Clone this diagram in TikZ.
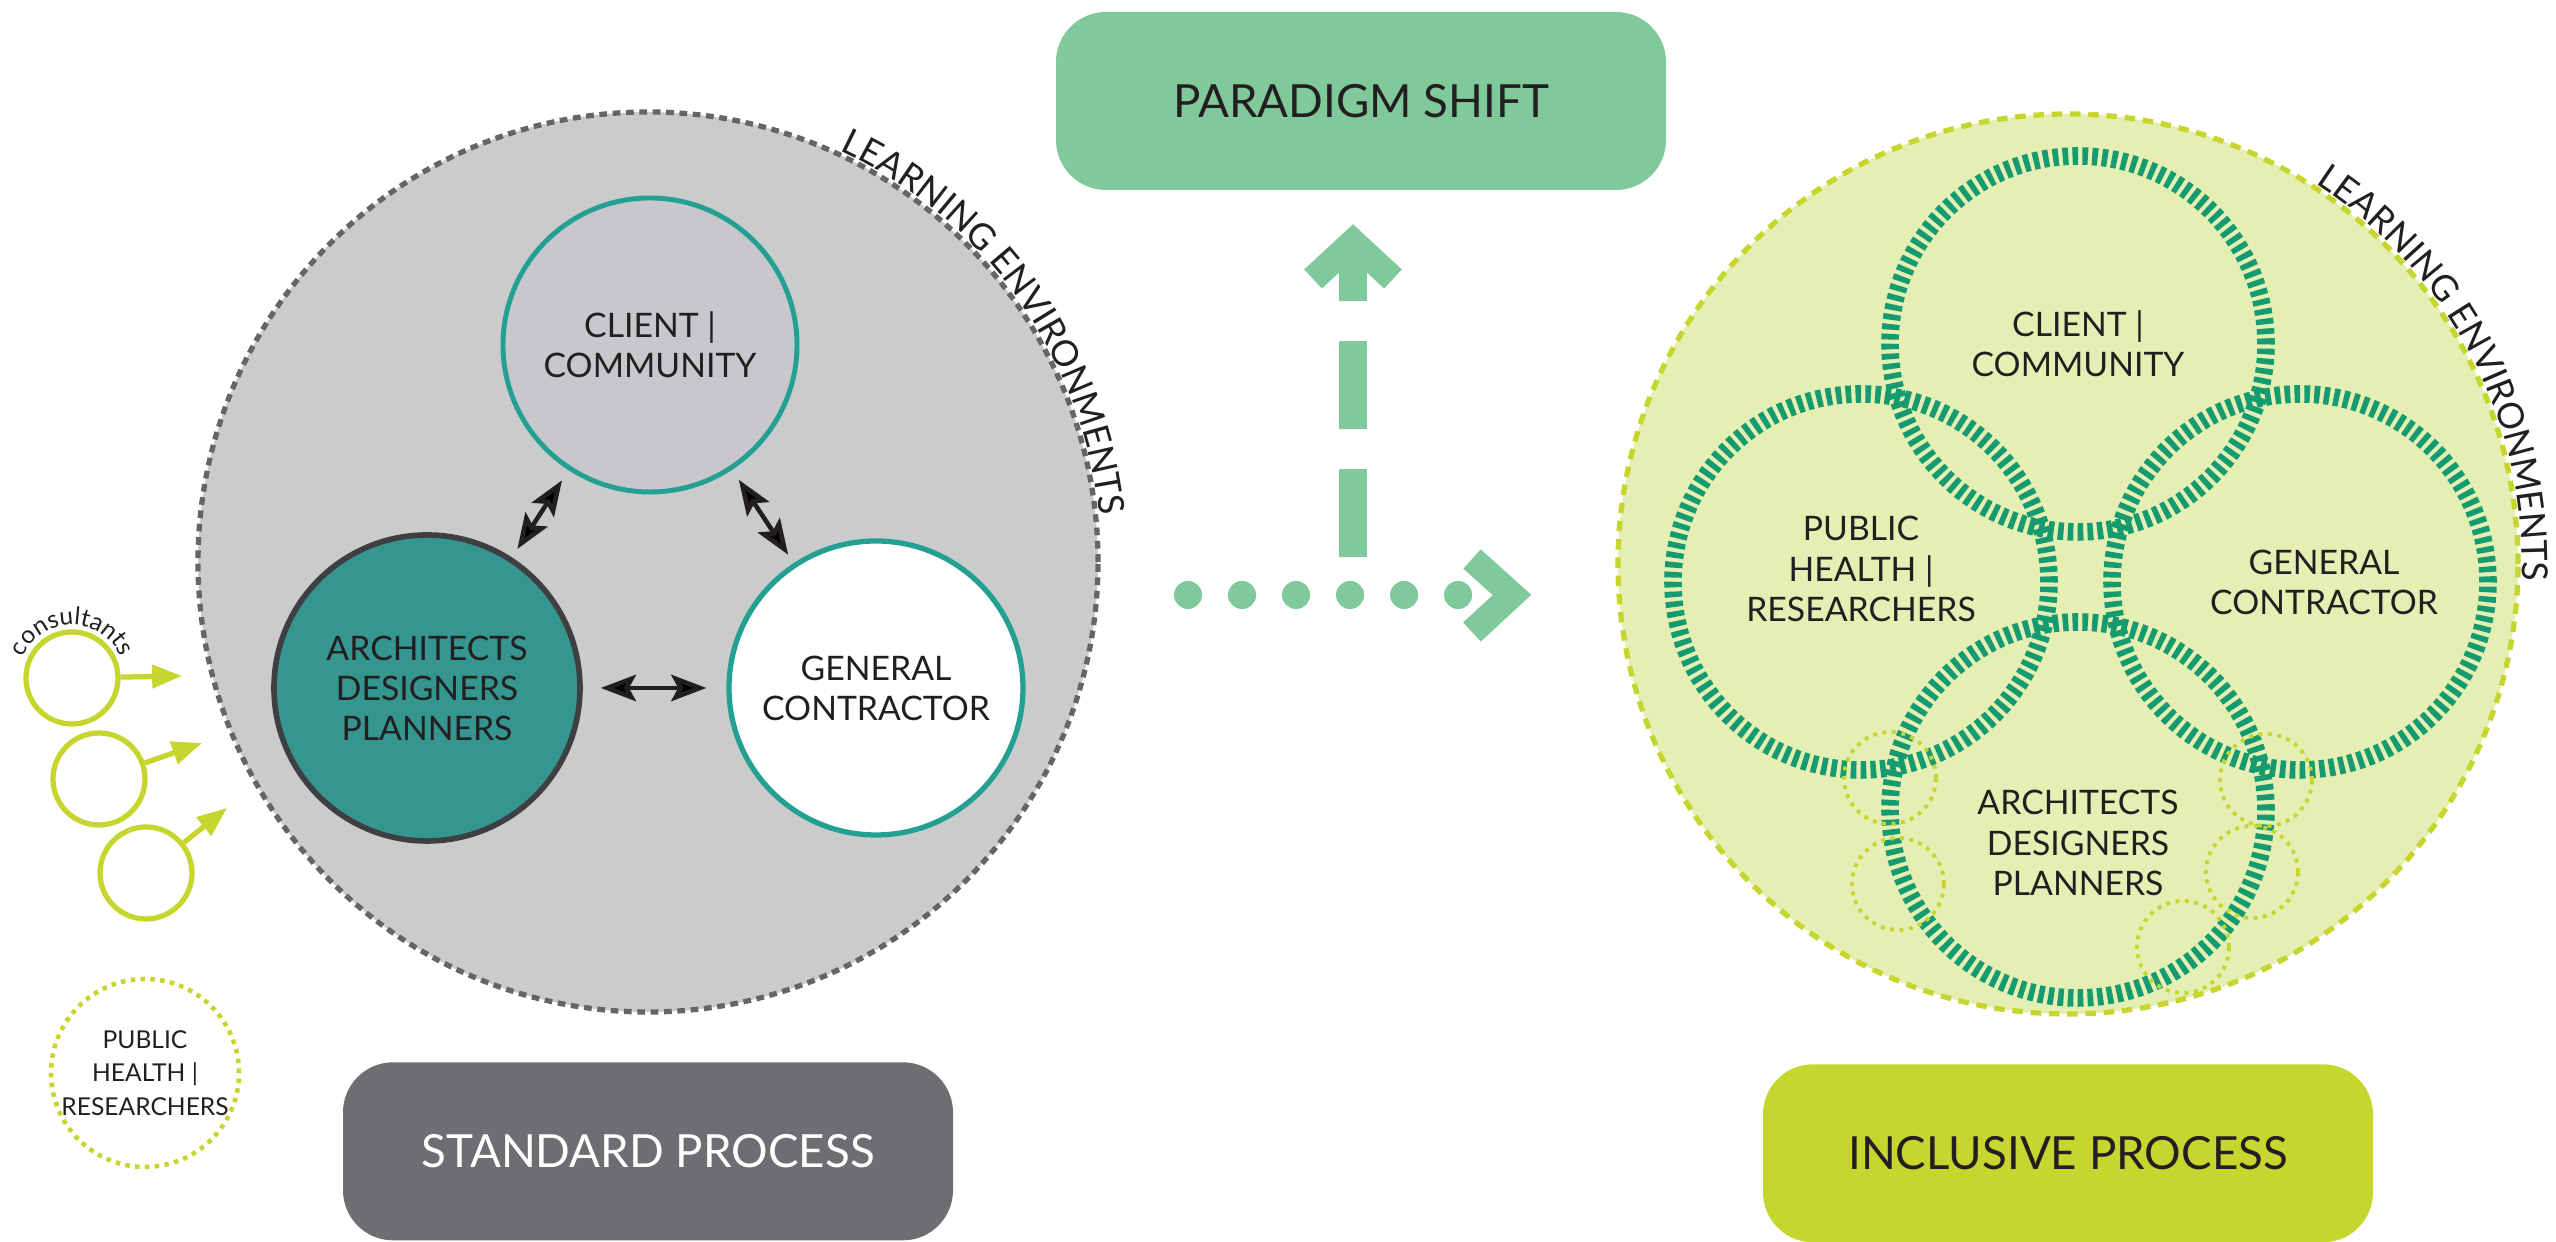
\documentclass[tikz,border=0pt]{standalone}
\usepackage{fontspec}
\setmainfont{Lato}
\usepackage{tikz}
\usetikzlibrary{positioning, arrows.meta, calc, decorations.text}
\usepackage{xcolor}
\definecolor{std-grey}{RGB}{202,203,203}
\definecolor{client-grey}{RGB}{200,199,204}
\definecolor{std-edge}{RGB}{100,101,104}
\definecolor{std-teal}{RGB}{36,160,146}
\definecolor{arch-teal}{RGB}{53,150,144}
\definecolor{arch-edge}{RGB}{62,63,66}
\definecolor{box-grey}{RGB}{109,110,113}
\definecolor{shift-green}{RGB}{128,201,154}
\definecolor{incl-lime}{RGB}{199,214,46}
\definecolor{incl-bg}{RGB}{229,239,180}
\definecolor{ring-green}{RGB}{22,155,113}
\definecolor{ink}{RGB}{35,31,32}

\newcommand{\rolefont}{\fontsize{9.6}{11.4}\selectfont}
\newcommand{\smallrolefont}{\fontsize{7}{9.5}\selectfont}
\newcommand{\boxfont}{\fontsize{13}{15}\selectfont}
\newcommand{\envfont}{\fontsize{10.2}{12}\selectfont}
\newcommand{\consfont}{\fontsize{7}{8}\selectfont}

\tikzset{
  role/.style={circle, inner sep=0pt, align=center, font=\rolefont, text=ink},
  ring/.style={circle, minimum size=3.76cm, draw=ring-green, line width=5pt, dash pattern=on 1.6pt off 1.2pt},
  dotring/.style={circle, minimum size=0.92cm, draw=incl-lime, line width=1.1pt, dash pattern=on 1.1pt off 1.6pt},
  consultant/.style={circle, minimum size=0.92cm, draw=incl-lime, line width=1.5pt},
  procbox/.style={rounded corners=0.5cm, minimum width=6.1cm, minimum height=1.78cm, font=\boxfont},
  link/.style={{Stealth[length=10pt,width=7.5pt,inset=2pt]}-{Stealth[length=10pt,width=7.5pt,inset=2pt]}, line width=1.3pt, draw=ink},
  feed/.style={-{Triangle[length=8.5pt,width=6.5pt]}, line width=1.5pt, draw=incl-lime},
  envtext/.style={decorate, decoration={text along path, text align=left, text color=ink, text={|\envfont|LEARNING ENVIRONMENTS}}},
  shiftline/.style={draw=shift-green, line width=8pt},
}

\begin{document}
\begin{tikzpicture}
\useasboundingbox (0,0) rectangle (25.56,12.42);

% standard process
\node[circle, minimum size=9cm, fill=std-grey, draw=std-edge, line width=1.5pt, dash pattern=on 2.2pt off 1.6pt] (env) at (6.48,6.80) {};
\path[envtext] (env.center) ++(65:4.54) arc[start angle=65, end angle=-10, radius=4.54];
\node[role, minimum size=2.94cm, fill=client-grey, draw=std-teal, line width=1.4pt] (client) at (6.50,8.97) {CLIENT |\\COMMUNITY};
\node[role, minimum size=3.06cm, fill=arch-teal, draw=arch-edge, line width=1.6pt] (arch) at (4.27,5.54) {ARCHITECTS\\DESIGNERS\\PLANNERS};
\node[role, minimum size=2.94cm, fill=white, draw=std-teal, line width=1.5pt] (gc) at (8.76,5.54) {GENERAL\\CONTRACTOR};
\draw
(client) edge[link, shorten <=0.12cm, shorten >=0.1cm] (arch)
(client) edge[link, shorten <=0.12cm, shorten >=0.1cm] (gc)
(arch) edge[link, shorten <=0.18cm, shorten >=0.2cm] (gc);

% consultants feeding in from outside
\node[consultant] (c1) at (0.72,5.64) {};
\node[consultant] (c2) at (0.99,4.63) {};
\node[consultant] (c3) at (1.46,3.69) {};
\path[decorate, decoration={text along path, text align=center, text color=ink, text={|\consfont|consultants}}] (c1.center) ++(175:0.53) arc[start angle=175, end angle=5, radius=0.53];
\coordinate (c1e) at (1.82,5.66);
\coordinate (c2e) at (2.02,4.99);
\coordinate (c3e) at (2.27,4.34);
\draw
(c1) edge[feed] (c1e)
(c2) edge[feed] (c2e)
(c3) edge[feed] (c3e);
\node[role, font=\smallrolefont, minimum size=1.88cm, draw=incl-lime, line width=1.3pt, dash pattern=on 1.3pt off 1.5pt] (ph) at (1.45,1.69) {PUBLIC\\HEALTH |\\RESEARCHERS};

\node[procbox, fill=box-grey, text=white, below=0.47cm of env] (std) {STANDARD PROCESS};

% inclusive process
\node[circle, minimum size=9cm, fill=incl-bg, draw=incl-lime, line width=1.5pt, dash pattern=on 3pt off 2.2pt] (renv) at (20.68,6.78) {};
\path[envtext] (renv.center) ++(57:4.54) arc[start angle=57, end angle=-15, radius=4.54];
\node[ring] (rclient) at (20.78,8.98) {};
\node[ring] (rpublic) at (18.61,6.60) {};
\node[ring] (rgc) at (23.00,6.60) {};
\node[ring] (rarch) at (20.78,4.32) {};
\foreach \pos [count=\i] in {(18.90,4.64), (18.98,3.58), (22.66,4.62), (22.52,3.70), (21.83,2.95)}
  \node[dotring] (d\i) at \pos {};
\node[role] (rclientlbl) at (rclient) {CLIENT |\\COMMUNITY};
\node[role] (rpubliclbl) at ([yshift=0.13cm]rpublic) {PUBLIC\\HEALTH |\\RESEARCHERS};
\node[role] (rgclbl) at ([xshift=0.24cm]rgc) {GENERAL\\CONTRACTOR};
\node[role] (rarchlbl) at ([yshift=-0.33cm]rarch) {ARCHITECTS\\DESIGNERS\\PLANNERS};

\node[procbox, fill=incl-lime, text=ink, below=0.47cm of renv] (incl) {INCLUSIVE PROCESS};

% the shift between the two
\node[procbox, fill=shift-green, text=ink] (paradigm) at (13.61,11.41) {PARADIGM SHIFT};
\coordinate (dotstart) at (11.88,6.47);
\coordinate (dotend) at (14.59,6.47);
\coordinate (shifttip) at (15.12,6.47);
\coordinate (upfoot) at (13.53,6.85);
\coordinate (uptip) at (13.53,10.00);
\draw[shiftline, line cap=round, dash pattern=on 0pt off 15.37pt] (dotstart) -- (dotend);
\draw[shiftline, line width=7.4pt] ($(shifttip)+(-0.40,0.36)$) -- (shifttip) -- ($(shifttip)+(-0.40,-0.37)$);
\draw[shiftline, dash pattern=on 25pt off 11.4pt] (upfoot) -- ([yshift=-0.06cm]uptip);
\draw[shiftline, line width=7.4pt] ($(uptip)+(-0.40,-0.37)$) -- (uptip) -- ($(uptip)+(0.40,-0.37)$);
\end{tikzpicture}
\end{document}
